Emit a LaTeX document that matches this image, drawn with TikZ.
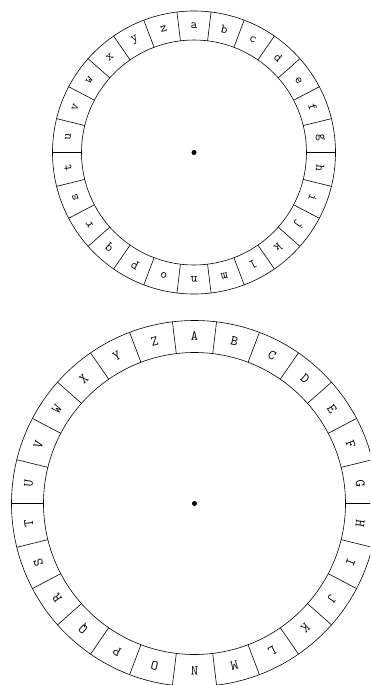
\documentclass[tikz,border=0pt]{standalone}
\usetikzlibrary{positioning}

\begin{document}
\begin{tikzpicture}[
  x=1pt, y=1pt,
  wheel/.style={draw, line width=0.6pt},
  letter/.style={font=\ttfamily\fontsize{13}{13}\selectfont, inner sep=0pt},
  bigletter/.style={font=\ttfamily\fontsize{14}{14}\selectfont, inner sep=0pt}
]
  \useasboundingbox (0,0) rectangle (370,-685);
  \clip (0,0) rectangle (370,-685);

  % small wheel, lower case
  \begin{scope}[shift={(194,-152.5)}]
    \coordinate (hub) at (0,0);
    \draw[wheel] (hub) circle[radius=141.5];
    \draw[wheel] (hub) circle[radius=112.5];
    \fill (hub) circle[radius=2.5];
    \foreach \l [count=\i from 0] in {a,...,z} {
      \draw[wheel] (90-\i*360/26+180/26:112.5) -- (90-\i*360/26+180/26:141.5);
      \node[letter, rotate=-\i*360/26] (lo-\l) at (90-\i*360/26:127) {\l};
    }
  \end{scope}

  % big wheel, upper case
  \begin{scope}[shift={(194.5,-503.5)}]
    \coordinate (hubbig) at (0,0);
    \draw[wheel] (hubbig) circle[radius=183];
    \draw[wheel] (hubbig) circle[radius=151];
    \fill (hubbig) circle[radius=2.5];
    \foreach \l [count=\i from 0] in {A,...,Z} {
      \draw[wheel] (90-\i*360/26+180/26:151) -- (90-\i*360/26+180/26:183);
      \node[bigletter, rotate=-\i*360/26] (up-\l) at (90-\i*360/26:167) {\l};
    }
  \end{scope}
\end{tikzpicture}
\end{document}
